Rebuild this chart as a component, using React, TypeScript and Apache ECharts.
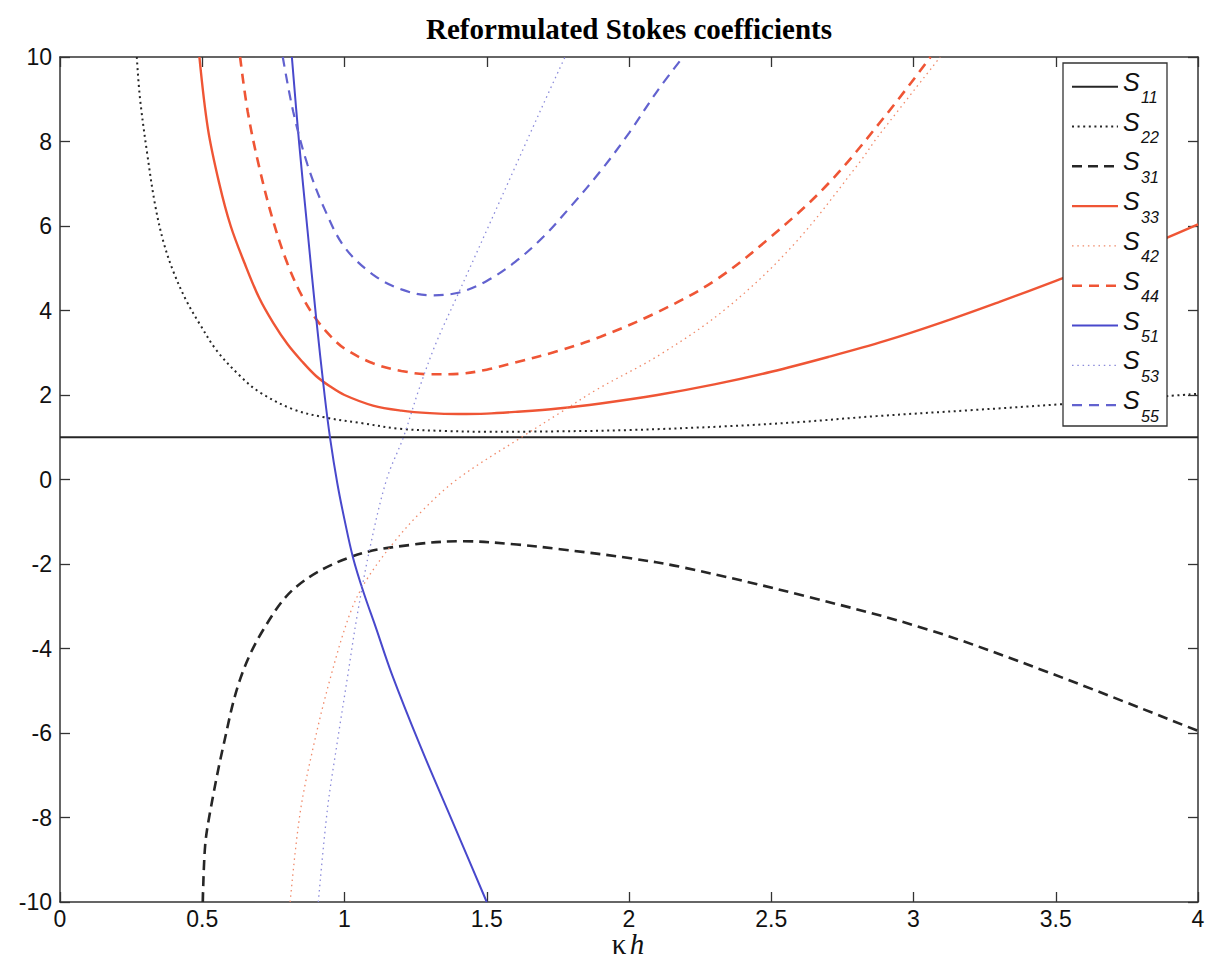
import React, { useEffect, useRef } from "react";
import * as echarts from "echarts";

// kappa*h axis and value axis
const X_MIN = 0;
const X_MAX = 4;
const X_STEP = 0.5;
const Y_MIN = -10;
const Y_MAX = 10;
const Y_STEP = 2;

const TITLE = "Reformulated Stokes coefficients";

// [kappa h, coefficient]
const S11 = [[0, 1], [4, 1]];
const S22 = [
  [0.27, 10], [0.281, 9.03], [0.307, 7.69], [0.334, 6.51], [0.363, 5.64], [0.398, 4.93],
  [0.445, 4.22], [0.492, 3.67], [0.551, 3.05], [0.633, 2.45], [0.703, 2.06], [0.82, 1.66],
  [0.938, 1.46], [1.055, 1.34], [1.195, 1.2], [1.35, 1.15], [1.5, 1.13], [1.75, 1.14],
  [2.0, 1.17], [2.344, 1.26], [2.6, 1.36], [2.87, 1.5], [3.2, 1.64], [3.516, 1.78],
  [3.75, 1.9], [4.0, 2.03],
];
const S31 = [
  [0.502, -10], [0.51, -8.68], [0.527, -7.89], [0.574, -6.31], [0.633, -4.73], [0.715, -3.55],
  [0.832, -2.53], [1.031, -1.81], [1.242, -1.54], [1.418, -1.46], [1.606, -1.54],
  [1.758, -1.65], [2.0, -1.86], [2.19, -2.08], [2.62, -2.76], [3.05, -3.55], [3.48, -4.58],
  [4.0, -5.95],
];
const S33 = [
  [0.49, 10], [0.52, 8.3], [0.56, 7.0], [0.6, 6.0], [0.65, 5.1], [0.7, 4.3], [0.75, 3.7],
  [0.8, 3.2], [0.85, 2.8], [0.9, 2.45], [0.95, 2.2], [1.0, 2.0], [1.1, 1.75], [1.2, 1.63],
  [1.3, 1.57], [1.4, 1.55], [1.5, 1.56], [1.6, 1.6], [1.75, 1.68], [1.9, 1.8], [2.1, 2.0],
  [2.3, 2.25], [2.5, 2.55], [2.7, 2.9], [2.9, 3.28], [3.1, 3.72], [3.3, 4.2], [3.5, 4.7],
  [3.75, 5.33], [4.0, 6.04],
];
const S42 = [
  [0.809, -10], [0.844, -7.89], [0.891, -6.31], [0.949, -4.73], [1.02, -3.16], [1.078, -2.37],
  [1.172, -1.5], [1.266, -0.79], [1.395, 0], [1.629, 1.03], [1.758, 1.58], [1.887, 2.13],
  [2.11, 2.96], [2.344, 4.06], [2.579, 5.56], [2.813, 7.53], [2.872, 8.09], [3.094, 10],
];
const S44 = [
  [0.633, 10], [0.66, 8.7], [0.7, 7.4], [0.75, 6.1], [0.8, 5.1], [0.85, 4.35], [0.9, 3.8],
  [0.95, 3.4], [1.0, 3.1], [1.1, 2.75], [1.2, 2.57], [1.3, 2.49], [1.4, 2.5], [1.5, 2.6],
  [1.6, 2.77], [1.75, 3.04], [1.9, 3.38], [2.1, 3.96], [2.3, 4.7], [2.5, 5.75], [2.7, 7.0],
  [2.9, 8.6], [3.06, 10],
];
const S51 = [
  [0.815, 10], [0.84, 8.0], [0.87, 5.9], [0.9, 3.85], [0.93, 2.0], [0.95, 0.95], [0.975, -0.1],
  [1.0, -0.95], [1.03, -1.85], [1.066, -2.65], [1.11, -3.5], [1.166, -4.6], [1.266, -6.3],
  [1.383, -8.15], [1.5, -10],
];
const S53 = [
  [0.908, -10], [0.94, -7.8], [0.975, -6.2], [1.01, -4.7], [1.045, -3.2], [1.09, -1.6],
  [1.148, 0], [1.207, 1.0], [1.26, 2.1], [1.32, 3.2], [1.4, 4.4], [1.5, 5.9], [1.6, 7.4],
  [1.7, 8.9], [1.775, 10],
];
const S55 = [
  [0.783, 10], [0.82, 8.7], [0.87, 7.45], [0.93, 6.4], [1.0, 5.5], [1.1, 4.85], [1.2, 4.5],
  [1.3, 4.36], [1.4, 4.42], [1.5, 4.7], [1.6, 5.15], [1.7, 5.75], [1.8, 6.5], [1.9, 7.3],
  [2.0, 8.2], [2.1, 9.2], [2.19, 10],
];

const BLACK = "#262626";
const RED = "#EF5535";
const BLUE = "#4848CC";
const BLUE_D = "#6262CF";

const SERIES = [
  { sub: "11", data: S11, color: BLACK, width: 2, dash: "solid" as any },
  { sub: "22", data: S22, color: BLACK, width: 2, dash: [2, 3.6] },
  { sub: "31", data: S31, color: BLACK, width: 2.6, dash: [10, 6] },
  { sub: "33", data: S33, color: RED, width: 2.4, dash: "solid" as any },
  { sub: "42", data: S42, color: "#F08A6A", width: 1.3, dash: [1.5, 3.8] },
  { sub: "44", data: S44, color: RED, width: 2.6, dash: [10, 7] },
  { sub: "51", data: S51, color: BLUE, width: 2, dash: "solid" as any },
  { sub: "53", data: S53, color: "#8B8BDA", width: 1.3, dash: [1.5, 3.8] },
  { sub: "55", data: S55, color: BLUE_D, width: 2.2, dash: [10, 7] },
];

const GRID = { left: 60, right: 7, top: 57, bottom: 58 };

export default function App() {
  const ref = useRef<HTMLDivElement>(null);
  useEffect(() => {
    if (!ref.current) return;
    const chart = echarts.init(ref.current, null, { renderer: "svg" });
    const axisLine = { show: true, onZero: false, lineStyle: { color: "#333", width: 1.5 } };
    const tick = { show: true, inside: true, length: 10, lineStyle: { color: "#333", width: 1.3 } };
    const labelStyle = { fontFamily: "Liberation Sans", fontSize: 23, color: "#111" };

    // legend drawn as graphic
    const legendEls: any[] = [];
    const lx0 = 1063, ly0 = 63, lw = 104, lh = 363;
    legendEls.push({
      type: "rect",
      shape: { x: lx0, y: ly0, width: lw, height: lh },
      style: { fill: "#fff", stroke: "#333", lineWidth: 1.3 },
      z: 100,
    });
    SERIES.forEach((s, i) => {
      const cy = 86.7 + 39.8 * i;
      legendEls.push({
        type: "line",
        shape: { x1: 1072, y1: cy, x2: 1118, y2: cy },
        style: {
          stroke: s.color,
          lineWidth: s.width,
          lineDash: Array.isArray(s.dash) ? s.dash : null,
        },
        z: 101,
      });
      legendEls.push({
        type: "text",
        x: 1123,
        y: cy - 5,
        style: {
          text: "S",
          font: 'italic 25px "Liberation Sans"',
          fill: "#111",
          textAlign: "left",
          textVerticalAlign: "middle",
        },
        z: 101,
      });
      legendEls.push({
        type: "text",
        x: 1141,
        y: cy + 11,
        style: {
          text: s.sub,
          font: 'italic 16px "Liberation Sans"',
          fill: "#111",
          textAlign: "left",
          textVerticalAlign: "middle",
        },
        z: 101,
      });
    });

    chart.setOption({
      animation: false,
      backgroundColor: "#fff",
      grid: { ...GRID, containLabel: false, outerBoundsMode: "none" },
      xAxis: [
        {
          type: "value",
          min: X_MIN,
          max: X_MAX,
          interval: X_STEP,
          position: "bottom",
          axisLine,
          axisTick: tick,
          splitLine: { show: false },
          axisLabel: { ...labelStyle, margin: 5 },
        },
        {
          type: "value",
          min: X_MIN,
          max: X_MAX,
          interval: X_STEP,
          position: "top",
          axisLine,
          axisTick: tick,
          splitLine: { show: false },
          axisLabel: { show: false },
        },
      ],
      yAxis: [
        {
          type: "value",
          min: Y_MIN,
          max: Y_MAX,
          interval: Y_STEP,
          position: "left",
          axisLine,
          axisTick: tick,
          splitLine: { show: false },
          axisLabel: { ...labelStyle, margin: 8 },
        },
        {
          type: "value",
          min: Y_MIN,
          max: Y_MAX,
          interval: Y_STEP,
          position: "right",
          axisLine,
          axisTick: tick,
          splitLine: { show: false },
          axisLabel: { show: false },
        },
      ],
      series: SERIES.map((s) => ({
        type: "line",
        name: "S" + s.sub,
        data: s.data,
        xAxisIndex: 0,
        yAxisIndex: 0,
        showSymbol: false,
        smooth: 0.35,
        clip: true,
        lineStyle: { color: s.color, width: s.width, type: s.dash },
        emphasis: { disabled: true },
      })),
      graphic: [
        {
          type: "text",
          x: 629,
          y: 29,
          style: {
            text: TITLE,
            font: 'bold 29px "Liberation Serif"',
            fill: "#000",
            textAlign: "center",
            textVerticalAlign: "middle",
          },
        },
        {
          type: "text",
          x: 628,
          y: 944,
          style: {
            text: "{k|κ} {h|h}",
            textAlign: "center",
            textVerticalAlign: "middle",
            rich: {
              k: { fontFamily: "Liberation Serif", fontSize: 29, fill: "#111" },
              h: { fontFamily: "Liberation Serif", fontStyle: "italic", fontSize: 29, fill: "#111" },
            },
          },
        },
        ...legendEls,
      ],
    });
    return () => chart.dispose();
  }, []);
  return (
    <div
      ref={ref}
      style={{ position: "fixed", left: 0, top: 0, width: 1205, height: 960, background: "#fff" }}
    />
  );
}
